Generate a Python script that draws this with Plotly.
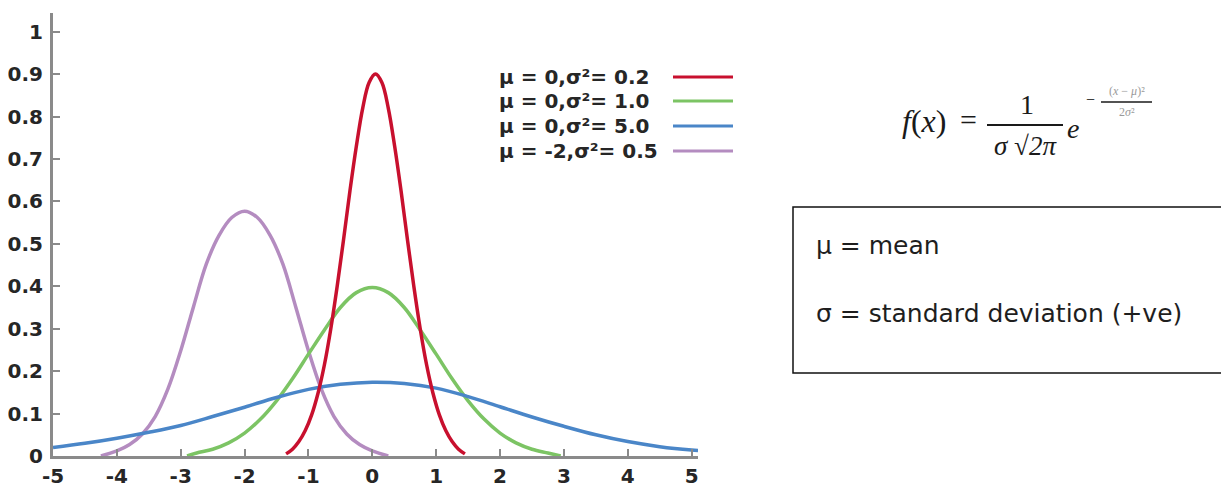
import plotly.graph_objects as go

# ---------------- data ----------------
red_x = [-1.35, -1.25, -1.15, -1.05, -0.95, -0.85, -0.75, -0.65, -0.55, -0.45, -0.35, -0.25,
         -0.15, -0.05, 0.05, 0.15, 0.25, 0.35, 0.45, 0.55, 0.65, 0.75, 0.85, 0.95, 1.05,
         1.15, 1.25, 1.35, 1.45]
red_y = [0.005, 0.016, 0.034, 0.06, 0.097, 0.148, 0.215, 0.30, 0.40, 0.51, 0.625, 0.73,
         0.82, 0.88, 0.90, 0.88, 0.82, 0.73, 0.625, 0.51, 0.40, 0.30, 0.215, 0.148, 0.097,
         0.06, 0.034, 0.016, 0.005]

green_x = [-2.9, -2.75, -2.5, -2.25, -2.0, -1.75, -1.5, -1.25, -1.0, -0.75, -0.5, -0.25,
           0.0, 0.25, 0.5, 0.75, 1.0, 1.25, 1.5, 1.75, 2.0, 2.25, 2.5, 2.75, 2.95]
green_y = [0.0, 0.007, 0.016, 0.031, 0.054, 0.087, 0.13, 0.182, 0.24, 0.297, 0.35, 0.385,
           0.397, 0.385, 0.35, 0.297, 0.24, 0.182, 0.13, 0.087, 0.054, 0.031, 0.016, 0.007, 0.0]

blue_x = [-5.0, -4.5, -4.0, -3.5, -3.0, -2.5, -2.0, -1.5, -1.0, -0.5, 0.0,
          0.5, 1.0, 1.5, 2.0, 2.5, 3.0, 3.5, 4.0, 4.5, 5.0, 5.1]
blue_y = [0.02, 0.03, 0.042, 0.056, 0.072, 0.093, 0.115, 0.138, 0.157, 0.169, 0.174,
          0.171, 0.16, 0.14, 0.116, 0.092, 0.07, 0.05, 0.034, 0.022, 0.014, 0.013]

purple_x = [-4.25, -4.0, -3.8, -3.6, -3.4, -3.2, -3.0, -2.8, -2.6, -2.4, -2.2, -2.0,
            -1.8, -1.6, -1.4, -1.2, -1.0, -0.8, -0.6, -0.4, -0.2, 0.0, 0.25]
purple_y = [0.0, 0.012, 0.027, 0.052, 0.093, 0.158, 0.248, 0.352, 0.452, 0.52, 0.562, 0.577,
            0.562, 0.52, 0.452, 0.352, 0.248, 0.158, 0.093, 0.052, 0.027, 0.012, 0.0]

legend_labels = ["μ = 0,σ²= 0.2", "μ = 0,σ²= 1.0", "μ = 0,σ²= 5.0", "μ = -2,σ²= 0.5"]
colors = ["#c8102e", "#7cc464", "#4a86c8", "#b48cc0"]

x_ticks = [-5, -4, -3, -2, -1, 0, 1, 2, 3, 4, 5]
x_ticktext = ["-5", "-4", "-3", "-2", "-1", "0", "1", "2", "3", "4", "5"]
y_ticks = [0, 0.1, 0.2, 0.3, 0.4, 0.5, 0.6, 0.7, 0.8, 0.9, 1.0]
y_ticktext = ["0", "0.1", "0.2", "0.3", "0.4", "0.5", "0.6", "0.7", "0.8", "0.9", "1"]

box_lines = ["μ = mean", "σ = standard deviation (+ve)"]

# ---------------- layout helpers ----------------
# the page body has an 8px margin, so the figure is drawn 8px right/down of the window origin
OFF = 8
W_PX, H_PX = 1229 - OFF, 485 - OFF
L, R, T, B = 53, 698, 13, 456          # plot area in window pixels
PW, PH = R - L, B - T


def px(x):
    return (x - L) / PW


def py(y):
    return 1 - (y - T) / PH


fig = go.Figure()

series = [
    (purple_x, purple_y, colors[3]),
    (green_x, green_y, colors[1]),
    (blue_x, blue_y, colors[2]),
    (red_x, red_y, colors[0]),
]
for xs, ys, c in series:
    fig.add_trace(go.Scatter(x=xs, y=ys, mode="lines",
                             line=dict(color=c, width=3.5, shape="spline", smoothing=1.0),
                             showlegend=False, hoverinfo="skip"))

axis_col = "#8a8a8a"
tick_font = dict(family="DejaVu Sans", size=20, color="#262626", weight="bold")

fig.update_layout(
    width=W_PX, height=H_PX,
    margin=dict(l=L - OFF, r=W_PX - (R - OFF), t=T - OFF, b=H_PX - (B - OFF), pad=0,
                autoexpand=False),
    paper_bgcolor="white", plot_bgcolor="white",
    xaxis=dict(range=[-5, 5.1], showgrid=False, zeroline=False, showline=True, automargin=False,
               linecolor=axis_col, linewidth=3, ticks="inside", ticklen=7, tickwidth=2,
               tickcolor=axis_col, tickvals=x_ticks, ticktext=x_ticktext,
               tickfont=tick_font, ticklabelstandoff=0),
    yaxis=dict(range=[0, 1.044], showgrid=False, zeroline=False, showline=True, automargin=False,
               linecolor=axis_col, linewidth=3, ticks="inside", ticklen=7, tickwidth=2,
               tickcolor=axis_col, tickvals=y_ticks, ticktext=y_ticktext,
               tickfont=tick_font, ticklabelstandoff=3),
)

annotations = []
shapes = []

# custom legend: text on the left, swatch on the right
leg_rows = [77, 101, 126, 151]
for lab, c, yy in zip(legend_labels, colors, leg_rows):
    annotations.append(dict(xref="paper", yref="paper", x=px(497), y=py(yy), text=lab,
                            showarrow=False, xanchor="left", yanchor="middle",
                            font=dict(family="DejaVu Sans", size=20, color="#262626", weight="bold")))
    shapes.append(dict(type="line", xref="paper", yref="paper", x0=px(673), x1=px(733),
                       y0=py(yy), y1=py(yy), line=dict(color=c, width=3)))

# formula
serif = "Liberation Serif"
ink = "#1a1a1a"
formula = [
    dict(x=px(924), y=py(121), text="<i>f</i>(<i>x</i>)", font=dict(family=serif, size=32, color=ink)),
    dict(x=px(968), y=py(120), text="=", font=dict(family=serif, size=30, color=ink)),
    dict(x=px(1027), y=py(104), text="1", font=dict(family=serif, size=28, color=ink)),
    dict(x=px(1025), y=py(146), text="<i>σ</i> √<i>2π</i>", font=dict(family=serif, size=27, color=ink)),
    dict(x=px(1073), y=py(128), text="<i>e</i>", font=dict(family=serif, size=28, color=ink)),
    dict(x=px(1090), y=py(100), text="−", font=dict(family=serif, size=16, color=ink)),
    dict(x=px(1127), y=py(91), text="(<i>x</i> − <i>μ</i>)²", font=dict(family=serif, size=12, color="#9a9a9a")),
    dict(x=px(1127), y=py(112), text="2<i>σ</i>²", font=dict(family=serif, size=12, color="#9a9a9a")),
]
for a in formula:
    a.update(xref="paper", yref="paper", showarrow=False, xanchor="center", yanchor="middle")
annotations += formula

shapes += [
    dict(type="line", xref="paper", yref="paper", x0=px(987), x1=px(1063), y0=py(125), y1=py(125),
         line=dict(color=ink, width=2)),
    dict(type="line", xref="paper", yref="paper", x0=px(1101), x1=px(1152), y0=py(102), y1=py(102),
         line=dict(color=ink, width=1.5)),
]

# definitions box
shapes.append(dict(type="rect", xref="paper", yref="paper", x0=px(793), x1=px(1223),
                   y0=py(373), y1=py(207), line=dict(color="#111111", width=1.5),
                   fillcolor="rgba(0,0,0,0)"))
for txt, yy in zip(box_lines, [246, 313]):
    annotations.append(dict(xref="paper", yref="paper", x=px(814), y=py(yy), text=txt,
                            showarrow=False, xanchor="left", yanchor="middle",
                            font=dict(family="DejaVu Sans", size=25, color="#1e1e1e")))

fig.update_layout(annotations=annotations, shapes=shapes)

fig.write_html("out.html")
